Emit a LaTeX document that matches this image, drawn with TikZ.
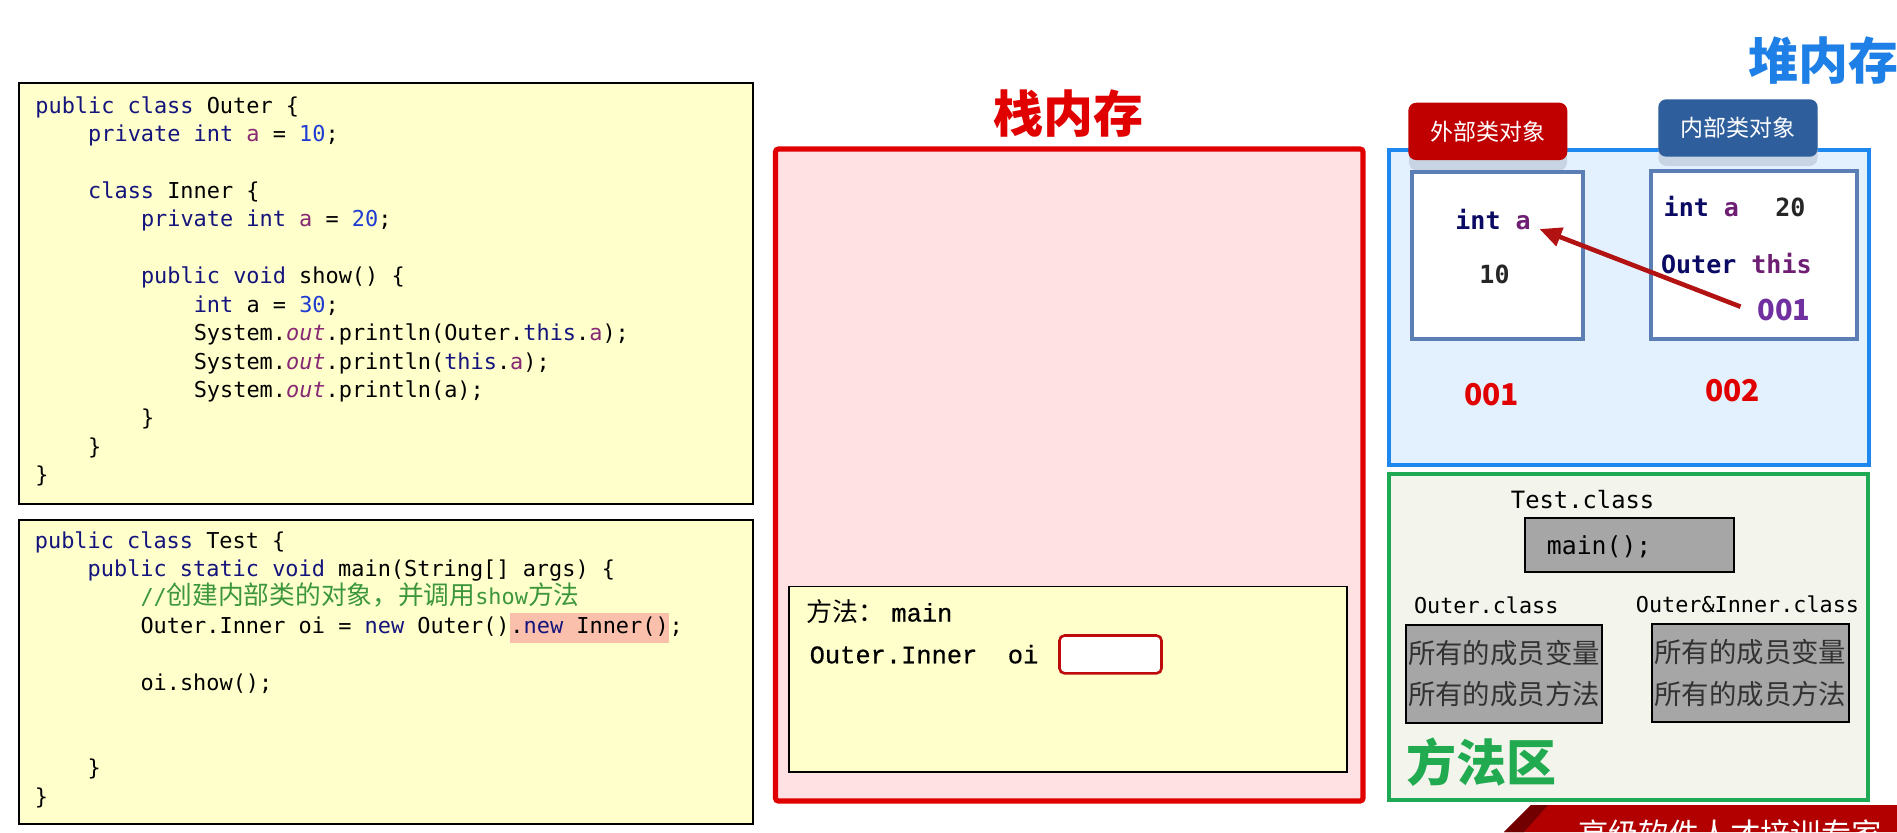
\documentclass[tikz,border=0pt]{standalone}
\usepackage{fontspec}
\setmonofont{DejaVu Sans Mono}
\newfontfamily\cjk{Noto Sans CJK SC}
\newfontfamily\courf{Liberation Mono}[FakeBold=0.6]
\usetikzlibrary{arrows.meta}
\definecolor{kwc}{RGB}{20,20,125}
\definecolor{numc}{RGB}{30,60,210}
\definecolor{fldc}{RGB}{135,40,115}
\definecolor{cmtc}{RGB}{60,150,60}
\definecolor{hlc}{RGB}{250,192,172}
\definecolor{codebg}{RGB}{255,255,204}
\definecolor{stackred}{RGB}{225,0,0}
\definecolor{stackfill}{RGB}{255,225,228}
\definecolor{oired}{RGB}{190,10,10}
\definecolor{heapblue}{RGB}{30,136,240}
\definecolor{heaptitle}{RGB}{30,128,230}
\definecolor{heapfill}{RGB}{227,240,253}
\definecolor{tabred}{RGB}{192,0,0}
\definecolor{tabblue}{RGB}{46,94,156}
\definecolor{tabshadow}{RGB}{200,212,228}
\definecolor{objline}{RGB}{91,127,181}
\definecolor{hnavy}{RGB}{10,10,100}
\definecolor{hpurple}{RGB}{110,30,115}
\definecolor{p001c}{RGB}{112,48,160}
\definecolor{arrc}{RGB}{178,18,18}
\definecolor{mgreen}{RGB}{30,170,85}
\definecolor{mfill}{RGB}{243,245,236}
\definecolor{mtitle}{RGB}{34,170,80}
\definecolor{grayfill}{RGB}{166,166,166}
\definecolor{graytext}{RGB}{50,50,50}
\definecolor{bannerred}{RGB}{178,0,0}
\definecolor{bannerdark}{RGB}{115,0,0}
\newcommand{\jkw}[1]{\textcolor{kwc}{#1}}
\newcommand{\jfd}[1]{\textcolor{fldc}{#1}}
\newcommand{\jnm}[1]{\textcolor{numc}{#1}}
\newcommand{\jout}[1]{\textcolor{fldc}{\itshape #1}}
\tikzset{
  codeline/.style={anchor=base west, inner sep=0pt, font=\ttfamily\fontsize{10.95}{13}\selectfont},
  codebox/.style={draw=black, line width=1pt, fill=codebg},
  bigtitle/.style={inner sep=0pt, font=\cjk\bfseries\fontsize{25}{30}\selectfont},
  tabbox/.style={rounded corners=4pt, inner sep=0pt, text=white, font=\cjk\fontsize{11.5}{14}\selectfont},
  objbox/.style={draw=objline, line width=2pt, fill=white},
  heaptext/.style={anchor=base west, inner sep=0pt, font=\ttfamily\bfseries\fontsize{12.5}{15}\selectfont},
  addr/.style={anchor=base, inner sep=0pt, font=\cjk\bfseries\fontsize{15}{18}\selectfont},
  clsname/.style={anchor=base west, inner sep=0pt, font=\ttfamily\fontsize{10.9}{13}\selectfont},
  graybox/.style={draw=black, line width=1pt, fill=grayfill, inner sep=0pt, align=left, text=graytext, font=\cjk\fontsize{13.7}{20.65}\selectfont},
  refarrow/.style={draw=arrc, line width=2.3pt, -{Triangle[length=11pt,width=9.5pt]}}
}
\begin{document}
\begin{tikzpicture}[x=0.5pt,y=-0.5pt]
\useasboundingbox (0,0) rectangle (1897,832);
\fill[white] (0,0) rectangle (1897,832);

% ---------- code box 1 ----------
\draw[codebox] (19,83) rectangle (752.5,504);
\node[codeline] (a0) at (35,113) {\jkw{public class} Outer \{};
\node[codeline] (a1) at (87.8,141.45) {\jkw{private int} \jfd{a} = \jnm{10};};
\node[codeline] (a3) at (87.8,198.35) {\jkw{class} Inner \{};
\node[codeline] (a4) at (140.6,226.8) {\jkw{private int} \jfd{a} = \jnm{20};};
\node[codeline] (a6) at (140.6,283.7) {\jkw{public void} show() \{};
\node[codeline] (a7) at (193.4,312.15) {\jkw{int} a = \jnm{30};};
\node[codeline] (a8) at (193.4,340.6) {System.\jout{out}.println(Outer.\jkw{this}.\jfd{a});};
\node[codeline] (a9) at (193.4,369.05) {System.\jout{out}.println(\jkw{this}.\jfd{a});};
\node[codeline] (a10) at (193.4,397.5) {System.\jout{out}.println(a);};
\node[codeline] (a11) at (140.6,425.95) {\}};
\node[codeline] (a12) at (87.8,454.4) {\}};
\node[codeline] (a13) at (35,482.85) {\}};

% ---------- code box 2 ----------
\draw[codebox] (19,519.5) rectangle (752.5,824);
\node[codeline] (b0) at (34.5,548) {\jkw{public class} Test \{};
\node[codeline] (b1) at (87.3,576.45) {\jkw{public static void} main(String[] args) \{};
\node[codeline] (b2) at (140.1,604.9) {\color{cmtc}//{\cjk\fontsize{12.85}{14}\selectfont 创建内部类的对象，并调用}show{\cjk\fontsize{12.85}{14}\selectfont 方法}};
\node[codeline] (b3a) at (140.1,633.35) {Outer.Inner oi = \jkw{new} Outer()};
\node[codeline, fill=hlc, text height=10pt, text depth=4.7pt] (b3b) at (b3a.base east) {.\jkw{new} Inner()};
\node[codeline] (b3c) at (b3b.base east) {;};
\node[codeline] (b5) at (140.1,690.25) {oi.show();};
\node[codeline] (b8) at (87.3,775.6) {\}};
\node[codeline] (b9) at (34.5,804.05) {\}};

% ---------- stack ----------
\node[bigtitle, text=stackred] (stt) at (1068.5,114) {栈内存};
\draw[draw=stackred, line width=2.6pt, fill=stackfill, rounded corners=1.5pt] (775.5,149) rectangle (1363,801);
\draw[draw=black, line width=0.8pt, fill=codebg] (789,586.5) rectangle (1347,772);
\node[anchor=base west, inner sep=0pt, font=\cjk\fontsize{13}{15}\selectfont] (mlab) at (806.5,621.5) {方法：};
\node[anchor=base west, inner sep=0pt, font=\courf\fontsize{12.7}{15}\selectfont] (mname) at (891,621.5) {main};
\node[anchor=base west, inner sep=0pt, font=\courf\fontsize{12.7}{15}\selectfont] (mvar) at (809.3,663.3) {Outer.Inner\ \ oi};
\node[draw=oired, line width=1.3pt, fill=white, rounded corners=2.5pt, minimum width=51pt, minimum height=18.9pt, inner sep=0pt] (oibox) at (1110.5,654.4) {};

% ---------- heap ----------
\node[bigtitle, text=heaptitle] (hpt) at (1823,61) {堆内存};
\draw[draw=heapblue, line width=2pt, fill=heapfill] (1389,150) rectangle (1869,465);
\fill[tabshadow, rounded corners=4pt] (1409,113) rectangle (1567,170.5);
\fill[tabshadow, rounded corners=4pt] (1658.5,109) rectangle (1817.5,166);
\node[tabbox, fill=tabred, minimum width=79.5pt, minimum height=28.7pt] (tab1) at (1487.8,131.4) {外部类对象};
\node[tabbox, fill=tabblue, minimum width=79.7pt, minimum height=28.7pt] (tab2) at (1738,128) {内部类对象};
\draw[objbox] (1411.7,171.7) rectangle (1582.7,339.3);
\draw[objbox] (1651,170.5) rectangle (1856.7,339.3);
\node[heaptext] (inta1) at (1455,229) {\textcolor{hnavy}{int} \textcolor{hpurple}{a}};
\node[heaptext, anchor=base] (ten) at (1494.5,283.3) {\textcolor{black!85}{10}};
\node[heaptext] (inta2) at (1663.3,216) {\textcolor{hnavy}{int} \textcolor{hpurple}{a}};
\node[heaptext] (twenty) at (1775,216) {\textcolor{black!85}{20}};
\node[heaptext] (othis) at (1660.7,273.3) {\textcolor{hnavy}{Outer} \textcolor{hpurple}{this}};
\node[addr, text=p001c, font=\cjk\bfseries\fontsize{14.5}{17}\selectfont] (p001) at (1784,320) {001};
\node[addr, text=stackred] (r001) at (1491.5,405) {001};
\node[addr, text=stackred] (r002) at (1732.5,401.7) {002};
\draw[refarrow] ([xshift=-8.3pt,yshift=1.4pt]p001.west) -- ([xshift=4.2pt]inta1.base east);

% ---------- method area ----------
\draw[draw=mgreen, line width=2.2pt, fill=mfill] (1389,474) rectangle (1868,800);
\node[anchor=base, inner sep=0pt, font=\ttfamily\fontsize{11.9}{14}\selectfont] (tcls) at (1582.6,508.3) {Test.class};
\node[draw=black, line width=1pt, fill=grayfill, minimum width=104.7pt, minimum height=26.7pt, inner sep=0pt] (mainbox) at (1629.3,545) {};
\node[anchor=base west, inner sep=0pt, font=\ttfamily\fontsize{12.4}{15}\selectfont] (mainm) at (1546.5,554) {main();};
\node[clsname] (ocls) at (1413.7,613.3) {Outer.class};
\node[clsname] (oicls) at (1635.5,612) {Outer\&Inner.class};
\node[graybox, minimum width=98pt, minimum height=48.85pt] (gb1) at (1504,673.85) {所有的成员变量\\所有的成员方法};
\node[graybox, minimum width=98.65pt, minimum height=49.15pt] (gb2) at (1750.35,673.15) {所有的成员变量\\所有的成员方法};
\node[bigtitle, text=mtitle] (mat) at (1481.8,762.5) {方法区};

% ---------- banner ----------
\begin{scope}
\clip (0,0) rectangle (1897,832);
\fill[bannerred] (1531,805) -- (1897,805) -- (1897,832) -- (1504,832) -- cycle;
\fill[bannerdark] (1504,832) -- (1531,805) -- (1548,805) -- (1524,832) -- cycle;
\node[inner sep=0pt, text=white, font=\cjk\fontsize{15.2}{18}\selectfont] (ban) at (1730,834) {高级软件人才培训专家};
\end{scope}
\end{tikzpicture}
\end{document}
